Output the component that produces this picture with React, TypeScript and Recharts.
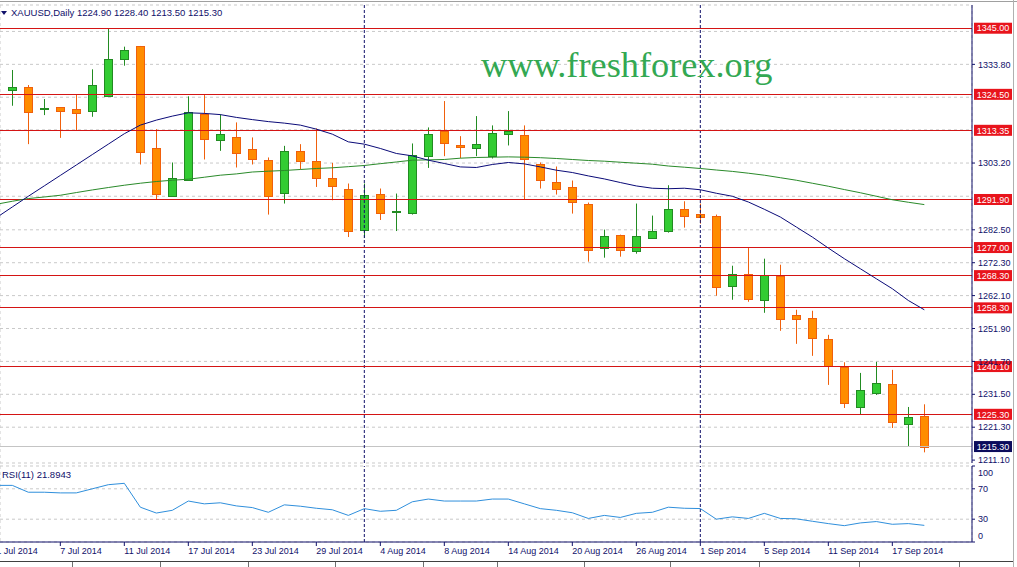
import { ComposedChart, Bar, Line, XAxis, YAxis, CartesianGrid, ReferenceLine } from "recharts"

// trading days on the chart (daily candles, weekends skipped); 1 Jul sits just off the left edge
const dates = [
  "1 Jul 2014", "2 Jul 2014", "3 Jul 2014", "4 Jul 2014",
  "7 Jul 2014", "8 Jul 2014", "9 Jul 2014", "10 Jul 2014", "11 Jul 2014",
  "14 Jul 2014", "15 Jul 2014", "16 Jul 2014", "17 Jul 2014", "18 Jul 2014",
  "21 Jul 2014", "22 Jul 2014", "23 Jul 2014", "24 Jul 2014", "25 Jul 2014",
  "28 Jul 2014", "29 Jul 2014", "30 Jul 2014", "31 Jul 2014", "1 Aug 2014",
  "4 Aug 2014", "5 Aug 2014", "6 Aug 2014", "7 Aug 2014", "8 Aug 2014",
  "11 Aug 2014", "12 Aug 2014", "13 Aug 2014", "14 Aug 2014", "15 Aug 2014",
  "18 Aug 2014", "19 Aug 2014", "20 Aug 2014", "21 Aug 2014", "22 Aug 2014",
  "25 Aug 2014", "26 Aug 2014", "27 Aug 2014", "28 Aug 2014", "29 Aug 2014",
  "1 Sep 2014", "2 Sep 2014", "3 Sep 2014", "4 Sep 2014", "5 Sep 2014",
  "8 Sep 2014", "9 Sep 2014", "10 Sep 2014", "11 Sep 2014", "12 Sep 2014",
  "15 Sep 2014", "16 Sep 2014", "17 Sep 2014", "18 Sep 2014", "19 Sep 2014",
]

const opens = [
  null,
  1325.74, 1326.67, 1319.84, 1320.46, 1319.93, 1319.22, 1324.06, 1335.37, 1339.5, 1307.72,
  1293.06, 1298.09, 1318.38, 1310.21, 1311.14, 1307.41, 1303.99, 1293.93, 1306.98, 1303.68,
  1298.71, 1295.3, 1282.43, 1293.74, 1287.93, 1287.72, 1305.24, 1313.1, 1308.65, 1307.72,
  1305.33, 1312.07, 1311.76, 1302.75, 1297.47, 1295.92, 1290.64, 1276.97, 1281.0, 1276.03,
  1280.07, 1282.12, 1289.08, 1287.53, 1286.91, 1265.16, 1268.89, 1260.81, 1268.27, 1256.15,
  1255.22, 1248.7, 1239.87, 1227.57, 1231.92, 1234.72, 1222.29, 1224.9,
]
const highs = [
  null,
  1332.05, 1327.39, 1323.04, 1320.5, 1324.28, 1332.26, 1345.0, 1339.28, 1339.5, 1313.72,
  1303.37, 1323.88, 1324.28, 1318.28, 1315.8, 1311.14, 1304.93, 1308.53, 1309.06, 1313.93,
  1303.25, 1296.85, 1296.85, 1295.3, 1293.74, 1309.27, 1314.24, 1322.42, 1311.54, 1317.76,
  1314.87, 1319.31, 1314.87, 1303.37, 1302.13, 1297.78, 1290.95, 1282.56, 1281.0, 1290.64,
  1286.91, 1296.32, 1291.35, 1290.64, 1287.22, 1271.37, 1276.84, 1273.55, 1271.68, 1257.71,
  1257.4, 1249.94, 1241.43, 1238.13, 1241.55, 1239.07, 1227.57, 1228.4,
]
const lows = [
  null,
  1320.96, 1309.06, 1318.07, 1311.0, 1313.41, 1317.54, 1324.06, 1333.38, 1302.75, 1291.88,
  1293.0, 1297.72, 1304.3, 1306.98, 1301.82, 1302.75, 1287.22, 1290.64, 1301.2, 1295.79,
  1291.66, 1280.26, 1279.95, 1285.54, 1282.12, 1287.22, 1301.69, 1305.33, 1304.71, 1305.33,
  1304.61, 1308.65, 1291.88, 1295.3, 1293.43, 1287.53, 1272.62, 1273.86, 1274.17, 1275.1,
  1279.76, 1281.63, 1283.18, 1284.42, 1262.06, 1260.81, 1260.19, 1256.77, 1251.18, 1247.14,
  1243.42, 1234.41, 1227.26, 1225.09, 1231.3, 1221.05, 1215.33, 1213.5,
]
const closes = [
  null,
  1326.67, 1319.09, 1320.24, 1319.4, 1318.78, 1327.29, 1335.37, 1338.26, 1306.67, 1293.74,
  1298.71, 1318.9, 1310.52, 1312.07, 1306.17, 1304.3, 1293.0, 1306.79, 1303.68, 1298.71,
  1296.01, 1282.12, 1293.43, 1287.84, 1288.34, 1305.55, 1312.07, 1309.27, 1308.03, 1308.96,
  1312.38, 1313.0, 1304.3, 1298.09, 1295.3, 1291.26, 1276.35, 1280.7, 1276.35, 1280.7,
  1282.25, 1289.08, 1286.91, 1286.6, 1264.85, 1268.89, 1261.12, 1268.58, 1254.91, 1254.91,
  1249.01, 1240.31, 1228.87, 1232.85, 1235.03, 1222.91, 1224.47, 1215.3,
]

// fast moving average (navy)
const maFast = [
  1286.25,
  1289.58, 1292.9, 1296.13, 1299.36, 1302.59, 1305.83, 1309.06, 1312.29, 1314.96, 1316.51,
  1317.75, 1318.78, 1318.59, 1318.22, 1317.35, 1316.67, 1316.05, 1315.58, 1314.96, 1313.72,
  1312.16, 1309.77, 1309.06, 1307.72, 1306.17, 1305.42, 1304.09, 1303.06, 1302.0, 1301.82,
  1302.75, 1303.37, 1302.94, 1302.0, 1300.98, 1300.26, 1299.21, 1298.28, 1297.16, 1296.1,
  1295.39, 1295.23, 1295.39, 1294.92, 1293.83, 1292.9, 1291.13, 1288.86, 1286.47, 1283.37,
  1280.26, 1276.84, 1273.55, 1270.44, 1267.33, 1264.23, 1260.59, 1257.7,
]
// slow moving average (green)
const maSlow = [
  1290.42,
  1291.35, 1292.19, 1292.68, 1293.21, 1294.05, 1294.86, 1295.61, 1296.32, 1296.94, 1297.47,
  1297.87, 1298.18, 1298.8, 1299.43, 1299.83, 1300.42, 1300.67, 1300.89, 1301.2, 1301.51,
  1301.73, 1302.07, 1302.44, 1303.0, 1303.53, 1304.09, 1304.18, 1304.3, 1304.71, 1304.92,
  1305.02, 1305.11, 1305.02, 1304.86, 1304.61, 1304.3, 1303.99, 1303.78, 1303.46, 1303.15,
  1302.84, 1302.28, 1301.91, 1301.51, 1301.04, 1300.61, 1300.05, 1299.43, 1298.65, 1297.87,
  1296.94, 1296.01, 1294.98, 1293.99, 1292.9, 1291.82, 1291.04, 1290.32,
]
const rsi = [
  74.5,
  74.5, 65.5, 65.5, 64.6, 64.6, 70.0, 75.4, 77.2, 45.8, 38.1,
  41.7, 53.9, 50.2, 51.6, 47.5, 45.3, 39.1, 48.9, 47.1, 44.4,
  42.4, 35.0, 43.9, 40.4, 41.7, 52.9, 56.5, 53.9, 53.9, 53.9,
  56.5, 56.5, 50.2, 43.9, 41.7, 38.5, 31.0, 35.0, 32.3, 37.7,
  39.1, 45.8, 44.4, 44.0, 30.0, 33.1, 31.0, 37.7, 31.0, 30.5,
  27.3, 24.2, 21.5, 25.1, 26.9, 23.3, 24.2, 21.8943,
]

// horizontal levels drawn on the chart
const levels = [1345.0, 1324.5, 1313.35, 1291.9, 1277.0, 1268.3, 1258.3, 1240.1, 1225.3]
const priceTicks = [1211.1, 1221.3, 1231.5, 1241.7, 1251.9, 1262.1, 1272.3, 1282.5, 1303.2, 1333.8]
const priceGrid = [1211.1, 1221.3, 1231.5, 1241.7, 1251.9, 1262.1, 1272.3, 1282.5, 1292.9, 1303.2, 1313.5, 1323.6, 1333.8, 1344.0]
const priceDomain = [1210.2, 1352.2]
const rsiTicks = [0, 30, 70, 100]
const rsiGrid = [30, 70]
const dateTickIdx = [0, 4, 8, 12, 16, 20, 24, 28, 32, 36, 40, 44, 48, 52, 56]
const gridIdx = [2, 4, 6, 8, 10, 12, 14, 16, 18, 20, 22, 24, 26, 28, 30, 32, 34, 36, 38, 40, 42, 44, 46, 48, 50, 52, 54, 56, 58, 60]
const separators = [23, 44] // month separators (1 Aug, 1 Sep)
const xDomain = [0.23, 60.98]

const data = dates.map((date, i) => ({
  i,
  date,
  o: opens[i],
  h: highs[i],
  l: lows[i],
  c: closes[i],
  fast: maFast[i],
  slow: maSlow[i],
  rsi: rsi[i],
}))
const last = data[data.length - 1]

const NAVY = "#10106a"
const RED = "#d41414"
const GRID = "#c9c9c9"
const FONT = "'Liberation Sans', Arial, sans-serif"
const bull = { fill: "#33cc33", edge: "#228b22" }
const bear = { fill: "#ff8c00", edge: "#f0600c" }

function Candle(props: any) {
  const { x, y, width, height, payload } = props
  if (x == null || y == null || !payload || payload.h == null) return null
  let top = y
  let h = height
  if (h < 0) {
    top = y + h
    h = -h
  }
  const unit = h / (payload.h - payload.l)
  const at = (v: number) => top + (payload.h - v) * unit
  const c = Math.round(x + width / 2)
  const up = payload.c >= payload.o
  const col = up ? bull : bear
  const bTop = Math.round(at(Math.max(payload.o, payload.c))) + 0.5
  const bBot = Math.round(at(Math.min(payload.o, payload.c))) + 0.5
  return (
    <g>
      <line x1={c + 0.5} x2={c + 0.5} y1={top} y2={top + h} stroke={col.edge} strokeWidth={1} />
      <rect x={c - 3.5} y={bTop} width={8} height={Math.max(bBot - bTop, 1)} fill={col.fill} stroke={col.edge} strokeWidth={1} />
    </g>
  )
}

function LevelTag(props: any) {
  const { viewBox, v, bg } = props
  if (!viewBox) return null
  const x = viewBox.x + viewBox.width + 2
  const y = viewBox.y
  return (
    <g>
      <rect x={x} y={y - 5.5} width={38} height={11} fill={bg} />
      <text x={x + 19} y={y} dy="0.36em" textAnchor="middle" fill="#ffffff" fontSize={9} fontFamily={FONT}>
        {v.toFixed(2)}
      </text>
    </g>
  )
}

function DateTick(props: any) {
  const { x, y, payload } = props
  return (
    <text x={x} y={y} dy="0.71em" textAnchor="start" fill={NAVY} fontSize={9} fontFamily={FONT}>
      {dates[payload.value] ?? ""}
    </text>
  )
}

function RsiTick(props: any) {
  const { x, y, payload } = props
  const v = payload.value
  const shift = v === 100 ? 6.5 : v === 0 ? -6 : 0
  return (
    <text x={x} y={y + shift} dy="0.36em" textAnchor="start" fill={NAVY} fontSize={9} fontFamily={FONT}>
      {v}
    </text>
  )
}

export default function App() {
  const axisText = { fill: NAVY, fontSize: 9, fontFamily: FONT }
  return (
    <div style={{ position: "absolute", left: 0, top: 0, width: 1017, height: 567, background: "#ffffff", overflow: "hidden" }}>
      <div style={{ position: "absolute", left: 0, top: 0 }}>
        <ComposedChart width={1017} height={465} data={data} margin={{ top: 5, right: 0, bottom: 2, left: 0 }}>
          <CartesianGrid xAxisId="x" yAxisId="g" stroke={GRID} strokeDasharray="3 3" />
          <XAxis xAxisId="x" dataKey="i" type="number" domain={xDomain} allowDataOverflow ticks={gridIdx}
            height={0} tick={false} tickLine={false} axisLine={{ stroke: NAVY }} />
          <XAxis xAxisId="top" dataKey="i" type="number" domain={xDomain} allowDataOverflow orientation="top"
            height={0} tick={false} tickLine={false} axisLine={{ stroke: NAVY }} />
          <YAxis yAxisId="g" hide domain={priceDomain} allowDataOverflow ticks={priceGrid} />
          <YAxis yAxisId="p" orientation="right" width={45} domain={priceDomain} allowDataOverflow ticks={priceTicks}
            interval={0} tickSize={3} tickMargin={3} tick={axisText} tickLine={{ stroke: NAVY }}
            axisLine={{ stroke: NAVY }} tickFormatter={(v: number) => v.toFixed(2)} />
          <ReferenceLine xAxisId="x" yAxisId="p" y={last.c} stroke="#c4c4c4" shapeRendering="crispEdges"
            label={<LevelTag v={last.c} bg="#0c0c5c" />} />
          {separators.map((s) => (
            <ReferenceLine key={s} xAxisId="x" yAxisId="p" x={s} stroke={NAVY} strokeDasharray="3 2" />
          ))}
          {levels.map((lv) => (
            <ReferenceLine key={lv} xAxisId="x" yAxisId="p" y={lv} stroke={RED} shapeRendering="crispEdges"
              label={<LevelTag v={lv} bg="#e8141c" />} />
          ))}
          <Bar xAxisId="x" yAxisId="p" dataKey={(d: any) => (d.l == null ? null : [d.l, d.h])} barSize={9}
            shape={<Candle />} isAnimationActive={false} />
          <Line xAxisId="x" yAxisId="p" dataKey="slow" stroke="#2a8a2a" strokeWidth={1} dot={false} activeDot={false} isAnimationActive={false} />
          <Line xAxisId="x" yAxisId="p" dataKey="fast" stroke="#0a0a78" strokeWidth={1} dot={false} activeDot={false} isAnimationActive={false} />
        </ComposedChart>
      </div>

      <div style={{ position: "absolute", left: 0, top: 464 }}>
        <ComposedChart width={1017} height={103} data={data} margin={{ top: 2, right: 0, bottom: 0, left: 0 }}>
          <CartesianGrid xAxisId="top" yAxisId="g" stroke={GRID} strokeDasharray="3 3" />
          <XAxis xAxisId="x" dataKey="i" type="number" domain={xDomain} allowDataOverflow ticks={dateTickIdx}
            interval={0} height={25} tickSize={4} tickMargin={2} tick={<DateTick />}
            tickLine={{ stroke: NAVY }} axisLine={{ stroke: NAVY }} />
          <XAxis xAxisId="top" dataKey="i" type="number" domain={xDomain} allowDataOverflow orientation="top" ticks={gridIdx}
            height={0} tick={false} tickLine={false} axisLine={{ stroke: NAVY }} />
          <YAxis yAxisId="g" hide domain={[0, 100]} allowDataOverflow ticks={rsiGrid} />
          <YAxis yAxisId="r" orientation="right" width={45} domain={[0, 100]} allowDataOverflow ticks={rsiTicks}
            interval={0} tickSize={3} tickMargin={3} tick={<RsiTick />} tickLine={{ stroke: NAVY }} axisLine={{ stroke: NAVY }} />
          {separators.map((s) => (
            <ReferenceLine key={s} xAxisId="x" yAxisId="r" x={s} stroke={NAVY} strokeDasharray="3 2" />
          ))}
          <Line xAxisId="x" yAxisId="r" dataKey="rsi" stroke="#2f8fdc" strokeWidth={1} dot={false} activeDot={false} isAnimationActive={false} />
        </ComposedChart>
      </div>

      <svg width={1017} height={567} style={{ position: "absolute", left: 0, top: 0, pointerEvents: "none" }}>
        <line x1={0} x2={1017} y1={1.5} y2={1.5} stroke="#a0a0a0" />
        <line x1={1013.5} x2={1013.5} y1={0} y2={567} stroke="#b0b0b0" />
        <polygon points="1,11 7,11 4,15" fill={NAVY} />
        <text x={11} y={13} dy="0.36em" fill={NAVY} fontSize={9.5} fontFamily={FONT}>
          {`XAUUSD,Daily  ${last.o.toFixed(2)} ${last.h.toFixed(2)} ${last.l.toFixed(2)} ${last.c.toFixed(2)}`}
        </text>
        <text x={481} y={77} fill="#33a852" fontSize={36.3} fontFamily="'Liberation Serif', 'Times New Roman', serif">
          www.freshforex.org
        </text>
        <text x={2} y={475} dy="0.36em" fill={NAVY} fontSize={9.5} fontFamily={FONT}>
          {`RSI(11) ${last.rsi.toFixed(4)}`}
        </text>
        <line x1={0} x2={1013} y1={561.5} y2={561.5} stroke="#404040" />
        {[72, 160, 248, 335, 423, 497, 584, 670, 759, 859, 959].map((tx) => (
          <line key={tx} x1={tx + 0.5} x2={tx + 0.5} y1={562} y2={567} stroke="#707070" />
        ))}
      </svg>
    </div>
  )
}
